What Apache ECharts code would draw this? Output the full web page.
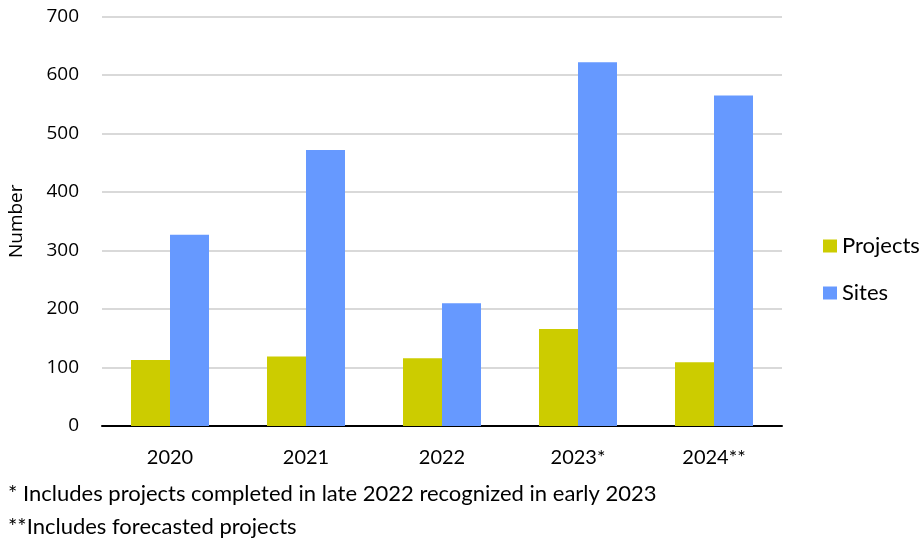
<!DOCTYPE html>
<html>
<head>
<meta charset="utf-8">
<script src="https://cdn.jsdelivr.net/npm/echarts@6/dist/echarts.min.js"></script>
<style>
  html, body { margin: 0; padding: 0; background: #fff; }
  #chart { width: 924px; height: 544px; }
</style>
</head>
<body>
<div id="chart"></div>
<script>
// Yearly counts of projects and sites
const years = ['2020', '2021', '2022', '2023*', '2024**'];
const projects = [113, 119, 116, 166, 109];
const sites = [327, 472, 210, 622, 565];
const yTicks = { min: 0, max: 700, step: 100 };
const notes = [
  '* Includes projects completed in late 2022 recognized in early 2023',
  '**Includes forecasted projects'
];

const chart = echarts.init(document.getElementById('chart'), null, { renderer: 'canvas' });

chart.setOption({
  animation: false,
  backgroundColor: '#ffffff',
  grid: {
    left: 102, right: 142, top: 16.5, bottom: 118,
    containLabel: false,
    outerBoundsMode: 'none'
  },
  legend: {
    orient: 'vertical',
    left: 823,
    top: 235,
    padding: 0,
    itemWidth: 14,
    itemHeight: 13,
    itemGap: 25,
    icon: 'rect',
    textStyle: { fontFamily: 'Lato', fontSize: 22, color: '#000' },
    data: ['Projects', 'Sites']
  },
  xAxis: {
    type: 'category',
    data: years,
    axisLine: { lineStyle: { color: '#000', width: 2 } },
    axisTick: { show: false },
    axisLabel: { fontFamily: 'Lato', fontSize: 20, color: '#000', margin: 22 }
  },
  yAxis: {
    type: 'value',
    min: yTicks.min,
    max: yTicks.max,
    interval: yTicks.step,
    name: 'Number',
    nameLocation: 'middle',
    nameGap: 76,
    nameTextStyle: { fontFamily: 'Open Sans', fontSize: 19, color: '#000' },
    axisLine: { show: false },
    axisTick: { show: false },
    splitLine: { lineStyle: { color: '#d9d9d9', width: 2 } },
    axisLabel: { fontFamily: 'Open Sans', fontSize: 19, color: '#000', margin: 23 }
  },
  series: [
    {
      name: 'Projects',
      type: 'bar',
      data: projects,
      barWidth: 39,
      barGap: '0%',
      itemStyle: { color: '#cccc00' }
    },
    {
      name: 'Sites',
      type: 'bar',
      data: sites,
      barWidth: 39,
      barGap: '0%',
      itemStyle: { color: '#6699ff' }
    }
  ],
  graphic: [
    {
      type: 'text', left: 8, top: 483,
      style: { text: notes[0], fontFamily: 'Lato', fontSize: 22, fill: '#000' }
    },
    {
      type: 'text', left: 8, top: 516,
      style: { text: notes[1], fontFamily: 'Lato', fontSize: 22, fill: '#000' }
    }
  ]
});
</script>
</body>
</html>
